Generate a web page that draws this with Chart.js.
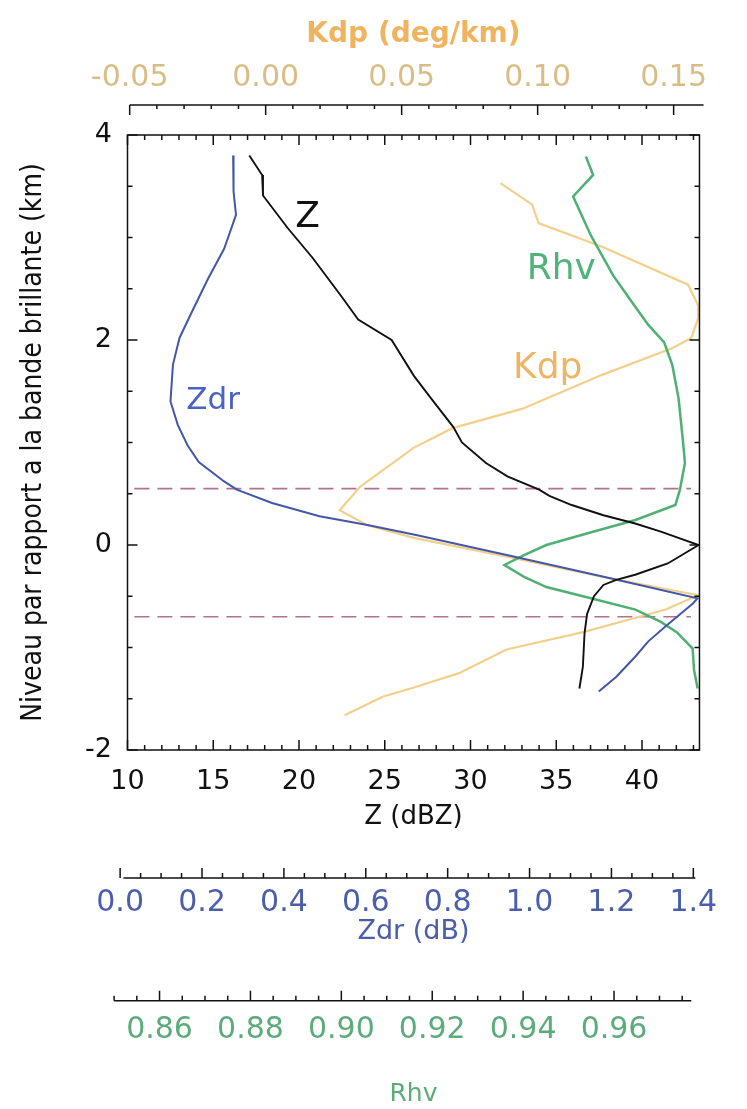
<!DOCTYPE html>
<html>
<head>
<meta charset="utf-8">
<title>Profil vertical Z, Zdr, Kdp, Rhv</title>
<script src="https://cdn.jsdelivr.net/npm/chart.js@4/dist/chart.umd.min.js"></script>
<style>
  html, body { margin: 0; padding: 0; background: #fff; overflow: hidden; }
  #wrap { width: 747px; height: 1109px; position: relative; }
</style>
</head>
<body>
<div id="wrap"><canvas id="chart"></canvas></div>
<script>
// Profiles against height relative to the bright band (km)
const zHeights = [3.80, 3.61, 3.41, 3.09, 2.80, 2.42, 2.20, 2.00, 1.65, 1.43, 1.15, 1.00, 0.80, 0.67, 0.54, 0.48, 0.39, 0.29, 0.21, 0.13, 0.00, -0.18, -0.29, -0.34, -0.39, -0.50, -0.67, -0.86, -1.19, -1.40];
const zValues  = [17.1, 17.85, 17.9, 19.35, 20.8, 22.5, 23.45, 25.4, 26.7, 27.7, 29.0, 29.5, 30.9, 32.15, 34.0, 34.6, 35.9, 37.75, 39.6, 41.1, 43.3, 41.5, 39.6, 38.5, 37.75, 37.2, 36.8, 36.65, 36.55, 36.35];

const zdrHeights = [3.80, 3.45, 3.22, 2.89, 2.60, 2.28, 2.02, 1.76, 1.40, 1.17, 0.97, 0.81, 0.62, 0.54, 0.41, 0.28, 0.195, 0.10, -0.10, -0.31, -0.52, -0.57, -0.78, -0.94, -1.09, -1.285, -1.43];
const zdrValues  = [0.276, 0.277, 0.283, 0.254, 0.215, 0.176, 0.145, 0.129, 0.123, 0.141, 0.165, 0.192, 0.254, 0.285, 0.371, 0.487, 0.604, 0.72, 0.947, 1.181, 1.41, 1.399, 1.336, 1.29, 1.258, 1.212, 1.169];

const rhvHeights = [3.79, 3.61, 3.40, 3.02, 2.63, 2.41, 2.15, 1.98, 1.76, 1.43, 1.00, 0.80, 0.54, 0.39, 0.244, 0.114, 0.00, -0.098, -0.195, -0.31, -0.41, -0.52, -0.63, -0.75, -0.85, -1.01, -1.22, -1.40];
const rhvValues  = [0.9538, 0.9554, 0.9510, 0.9549, 0.9598, 0.9633, 0.9675, 0.9710, 0.9728, 0.9742, 0.9752, 0.9756, 0.9745, 0.9735, 0.9647, 0.9542, 0.9451, 0.9402, 0.9359, 0.9402, 0.9451, 0.9549, 0.9647, 0.9703, 0.9738, 0.9773, 0.9776, 0.9784];

const kdpHeights = [3.53, 3.32, 3.14, 2.91, 2.54, 2.34, 2.21, 2.02, 1.92, 1.66, 1.33, 1.14, 0.95, 0.57, 0.34, 0.195, 0.07, -0.114, -0.31, -0.49, -0.63, -0.715, -0.85, -1.02, -1.25, -1.39, -1.48, -1.66];
const kdpValues  = [0.0863, 0.0980, 0.1003, 0.1237, 0.1553, 0.1590, 0.1590, 0.1565, 0.1494, 0.1237, 0.0945, 0.0687, 0.0545, 0.0348, 0.0272, 0.0372, 0.0545, 0.0886, 0.1237, 0.1590, 0.1471, 0.1354, 0.1167, 0.0886, 0.0711, 0.0545, 0.0430, 0.0290];

// bright band limits (km) and the Z span of the dashed markers
const bandLevels = [0.55, -0.70];
const bandZSpan = [10.4, 42.85];

// tick labels
const yTicks = [-2, 0, 2, 4];
const zTicks = [10, 15, 20, 25, 30, 35, 40];
const kdpTicks = [-0.05, 0.00, 0.05, 0.10, 0.15];
const zdrTicks = [0.0, 0.2, 0.4, 0.6, 0.8, 1.0, 1.2, 1.4];
const rhvTicks = [0.86, 0.88, 0.90, 0.92, 0.94, 0.96];

const FONT = "'DejaVu Sans', 'Noto Sans', sans-serif";
const COL_Z = '#111111';
const COL_ZDR = '#4357a8';
const COL_RHV = '#4fb073';
const COL_KDP = '#f3cf8c';

function pts(hs, vs) {
    return hs.map((h, i) => ({ x: vs[i], y: h }));
}

function fixedTicks(list) {
    return scale => { scale.ticks = list.map(value => ({ value })); };
}

// walk minor/major tick positions of an axis
function eachTick(from, to, step, majorStep, fn) {
    const n = Math.round((to - from) / step);
    for (let i = 0; i <= n; i++) {
        const v = from + i * step;
        const r = v / majorStep;
        fn(v, Math.abs(r - Math.round(r)) < 1e-6);
    }
}

// text tags drawn next to each curve, in the units of its own axis
const curveTags = [
    { text: 'Z',   axis: 'x',    x: 20.5,   y: 3.10, size: 36, color: '#111' },
    { text: 'Zdr', axis: 'xZdr', x: 0.227,  y: 1.33, size: 31, color: '#4a63c2' },
    { text: 'Rhv', axis: 'xRhv', x: 0.9484, y: 2.60, size: 36, color: '#4fb37a' },
    { text: 'Kdp', axis: 'xKdp', x: 0.1037, y: 1.63, size: 36, color: '#f0b562' }
];

const axisDecor = {
    id: 'axisDecor',
    afterDatasetsDraw(chart) {
        const { ctx, chartArea: a, scales } = chart;
        const seg = (x1, y1, x2, y2) => {
            ctx.beginPath(); ctx.moveTo(x1, y1); ctx.lineTo(x2, y2); ctx.stroke();
        };
        ctx.save();
        ctx.strokeStyle = '#111';
        ctx.lineWidth = 1.5;

        // plot frame with inward ticks
        ctx.strokeRect(a.left, a.top, a.right - a.left, a.bottom - a.top);
        eachTick(10, 43, 1, 5, (v, major) => {
            const px = scales.x.getPixelForValue(v);
            const len = major ? 10 : 5;
            seg(px, a.top, px, a.top + len);
            seg(px, a.bottom, px, a.bottom - len);
        });
        eachTick(-2, 4, 0.5, 2, (v, major) => {
            const py = scales.y.getPixelForValue(v);
            const len = major ? 10 : 5;
            seg(a.left, py, a.left + len, py);
            seg(a.right, py, a.right - len, py);
        });

        // Kdp axis above the plot, ticks hanging down
        const sK = scales.xKdp;
        const yK = sK.bottom - 30;
        seg(sK.getPixelForValue(-0.05), yK, sK.getPixelForValue(0.161), yK);
        eachTick(-0.05, 0.15, 0.01, 0.05, (v, major) => {
            const px = sK.getPixelForValue(v);
            seg(px, yK, px, yK + (major ? 10 : 4));
        });

        // Zdr axis, ticks pointing up
        const sD = scales.xZdr;
        seg(sD.getPixelForValue(0.008), sD.top, sD.getPixelForValue(1.405), sD.top);
        eachTick(0, 1.4, 0.05, 0.2, (v, major) => {
            const px = sD.getPixelForValue(v);
            seg(px, sD.top, px, sD.top - (major ? 10 : 5));
        });

        // Rhv axis, ticks pointing up
        const sR = scales.xRhv;
        seg(sR.getPixelForValue(0.85), sR.top, sR.getPixelForValue(0.977), sR.top);
        eachTick(0.85, 0.975, 0.005, 0.02, (v, major) => {
            const px = sR.getPixelForValue(v);
            seg(px, sR.top, px, sR.top - (major ? 10 : 5));
        });

        // curve names
        ctx.textAlign = 'center';
        ctx.textBaseline = 'alphabetic';
        curveTags.forEach(t => {
            ctx.font = t.size + 'px ' + FONT;
            ctx.fillStyle = t.color;
            ctx.fillText(t.text, scales[t.axis].getPixelForValue(t.x), scales.y.getPixelForValue(t.y));
        });
        ctx.restore();
    }
};

const line = (label, data, axis, color, width) => ({
    label, data, xAxisID: axis, yAxisID: 'y',
    showLine: true, borderColor: color, borderWidth: width,
    pointRadius: 0, fill: false, tension: 0
});

const bandLines = bandLevels.map((lvl, i) => ({
    label: 'bande ' + (i + 1),
    data: bandZSpan.map(z => ({ x: z, y: lvl })),
    xAxisID: 'x', yAxisID: 'y',
    showLine: true, borderColor: '#b4708f', borderWidth: 1.6,
    borderDash: [15, 8], pointRadius: 0
}));

new Chart(document.getElementById('chart'), {
    type: 'scatter',
    data: {
        datasets: [
            line('Z', pts(zHeights, zValues), 'x', COL_Z, 1.9),
            line('Zdr', pts(zdrHeights, zdrValues), 'xZdr', COL_ZDR, 2),
            line('Rhv', pts(rhvHeights, rhvValues), 'xRhv', COL_RHV, 2.5),
            line('Kdp', pts(kdpHeights, kdpValues), 'xKdp', COL_KDP, 2.2),
            ...bandLines
        ]
    },
    options: {
        responsive: true,
        maintainAspectRatio: false,
        animation: false,
        layout: { padding: { left: 0, top: 0, right: 21.5, bottom: 0 } },
        plugins: { legend: { display: false }, tooltip: { enabled: false } },
        scales: {
            y: {
                type: 'linear', position: 'left', min: -2, max: 4,
                afterBuildTicks: fixedTicks(yTicks),
                afterFit: s => { s.width = 127.5; },
                grid: { display: false, drawTicks: false },
                border: { display: false },
                ticks: { padding: 15.5, color: '#111', font: { family: FONT, size: 27 } },
                title: {
                    display: true,
                    text: 'Niveau par rapport a la bande brillante (km)',
                    color: '#111',
                    font: { family: "'Liberation Sans Narrow', 'DejaVu Sans Condensed', 'Noto Sans', sans-serif", size: 28 },
                    padding: { top: 17, bottom: 0 }
                }
            },
            xKdp: {
                type: 'linear', position: 'top', min: -0.0508, max: 0.1595,
                afterBuildTicks: fixedTicks(kdpTicks),
                afterFit: s => { s.height = 135; },
                grid: { display: false, drawTicks: false },
                border: { display: false },
                ticks: {
                    padding: 39, color: '#d9bd86', autoSkip: false, maxRotation: 0,
                    font: { family: FONT, size: 30 },
                    callback: v => v.toFixed(2)
                },
                title: {
                    display: true, text: 'Kdp (deg/km)', color: '#f0b360',
                    font: { family: FONT, size: 28, weight: 'bold' },
                    padding: { top: 18, bottom: 0 }
                }
            },
            x: {
                type: 'linear', position: 'bottom', weight: 0, min: 10, max: 43.35,
                afterBuildTicks: fixedTicks(zTicks),
                afterFit: s => { s.height = 128; },
                grid: { display: false, drawTicks: false },
                border: { display: false },
                ticks: {
                    padding: 15.8, color: '#111', autoSkip: false, maxRotation: 0,
                    font: { family: FONT, size: 27 },
                    callback: v => v.toFixed(0)
                },
                title: {
                    display: true, text: 'Z (dBZ)', color: '#111',
                    font: { family: FONT, size: 26 },
                    padding: { top: 0, bottom: 45.4 }
                }
            },
            xZdr: {
                type: 'linear', position: 'bottom', weight: 1, min: 0.018, max: 1.415,
                afterBuildTicks: fixedTicks(zdrTicks),
                afterFit: s => { s.height = 122.7; },
                grid: { display: false, drawTicks: false },
                border: { display: false },
                ticks: {
                    padding: 7.3, color: '#4a5eab', autoSkip: false, maxRotation: 0,
                    font: { family: FONT, size: 30 },
                    callback: v => v.toFixed(1)
                },
                title: {
                    display: true, text: 'Zdr (dB)', color: '#4a5eab',
                    font: { family: FONT, size: 27 },
                    padding: { top: 0, bottom: 52.8 }
                }
            },
            xRhv: {
                type: 'linear', position: 'bottom', weight: 2, min: 0.85295, max: 0.9788,
                afterBuildTicks: fixedTicks(rhvTicks),
                afterFit: s => { s.height = 108.3; },
                grid: { display: false, drawTicks: false },
                border: { display: false },
                ticks: {
                    padding: 11.3, color: '#5cab7a', autoSkip: false, maxRotation: 0,
                    font: { family: FONT, size: 30 },
                    callback: v => v.toFixed(2)
                },
                title: {
                    display: true, text: 'Rhv', color: '#5cab7a',
                    font: { family: FONT, size: 25 },
                    padding: { top: 0, bottom: 0 }
                }
            }
        }
    },
    plugins: [axisDecor]
});
</script>
</body>
</html>
